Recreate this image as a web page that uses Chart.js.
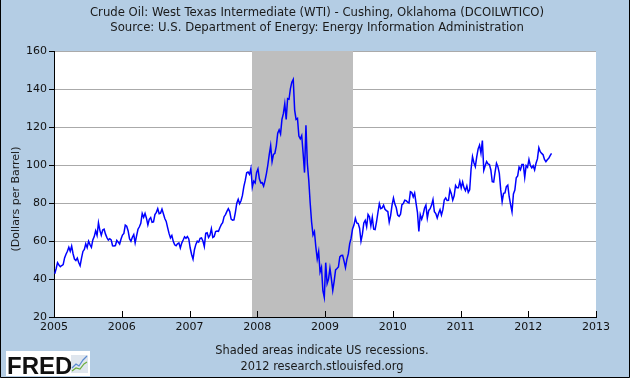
<!DOCTYPE html>
<html><head><meta charset="utf-8">
<script src="https://cdn.jsdelivr.net/npm/chart.js@4.4.1/dist/chart.umd.min.js"></script>
<style>html,body{margin:0;padding:0;background:#b4cde4;overflow:hidden}</style>
</head><body>
<canvas id="c" width="630" height="378"></canvas>
<script>
// Weekly WTI spot prices (4 readings per month), dollars per barrel
const wti2005 = [42.8,45.4,48.6,47.4, 46.5,47.1,47.6,51.1, 53.0,54.6,56.7,54.6, 57.3,53.3,50.5,49.7,
  51.0,48.7,47.0,51.0, 54.5,55.6,58.5,56.5, 59.9,58.1,56.7,60.6, 62.3,65.4,63.0,69.6,
  65.6,63.0,65.8,66.2, 63.6,61.8,60.5,61.2, 60.6,57.5,57.4,57.6, 60.3,59.4,58.4,61.0];
const wti2006 = [63.1,64.0,68.4,67.8, 65.4,61.2,59.9,62.0, 63.4,59.0,62.7,66.2, 67.5,69.3,74.5,72.5,
  74.5,72.0,68.5,71.4, 72.3,69.8,70.0,73.9, 75.1,77.0,74.4,74.7, 76.8,74.3,71.8,70.3,
  67.0,64.0,61.6,62.9, 59.8,58.0,57.5,58.5, 59.0,56.3,58.9,60.5, 62.2,61.4,62.3,61.1];
const wti2007 = [56.3,52.9,50.5,55.4, 58.2,59.9,59.4,61.4, 61.6,60.0,57.1,64.0, 64.3,61.9,63.1,66.5,
  61.9,62.4,65.0,65.2, 65.1,67.0,68.6,69.6, 72.8,73.9,75.6,77.0, 75.5,71.5,71.0,71.1,
  75.1,79.9,81.9,79.6, 81.2,84.0,88.6,91.9, 95.9,96.3,95.1,98.2, 88.3,91.5,90.6,96.0];
const wti2008 = [97.9,92.7,90.6,90.7, 88.9,91.8,95.5,100.0, 105.5,110.2,101.8,105.6, 106.2,110.1,116.7,118.5,
  116.3,124.0,127.0,132.2, 124.0,134.9,134.6,140.2, 143.6,145.1,128.9,124.0, 124.5,115.2,113.8,115.5,
  106.2,96.0,120.9,100.7, 92.0,80.0,70.0,63.2, 65.0,57.0,50.5,54.4, 43.7,46.2,33.9,30.3];
const wti2009 = [48.6,37.6,40.0,45.7, 40.2,34.0,38.9,44.8, 45.5,46.3,51.6,52.4, 52.5,49.4,46.0,50.3,
  53.2,58.6,61.5,66.3, 68.4,72.0,69.5,69.2, 66.7,59.9,63.6,69.5, 70.9,67.5,73.9,72.7,
  68.0,72.5,66.2,66.0, 70.0,75.0,79.6,77.0, 77.4,78.9,76.7,76.0, 75.5,69.9,73.4,78.9];
const wti2010 = [82.6,79.4,77.5,73.6, 73.0,74.1,79.1,79.7, 81.5,81.2,80.4,80.0, 85.9,85.5,83.2,85.2,
  79.9,75.1,65.0,73.9, 71.5,73.8,77.2,78.9, 72.1,76.1,77.0,78.9, 81.8,75.4,74.4,72.1,
  74.6,76.5,73.7,76.5, 81.6,82.7,81.3,81.4, 87.0,84.9,81.5,83.8, 89.2,88.0,88.0,91.4];
const wti2011 = [88.0,91.1,88.0,86.5, 89.0,85.6,87.0,97.9, 104.4,101.2,99.1,104.3, 108.5,110.5,106.2,112.9,
  97.2,99.6,101.8,100.6, 100.2,97.4,91.2,91.0, 96.2,100.9,99.1,95.6, 86.9,80.7,85.1,85.3,
  88.6,89.4,83.3,79.2, 75.4,84.8,86.8,93.3, 94.3,98.9,97.5,100.2, 100.2,93.5,99.7,98.8];
const wti2012 = [102.9,99.7,98.5,99.6, 97.4,100.9,103.2,109.1, 107.0,106.1,105.4,102.9, 101.8,102.8,103.5,104.9, 106.1];

const seriesByYear = [[2005,wti2005],[2006,wti2006],[2007,wti2007],[2008,wti2008],
  [2009,wti2009],[2010,wti2010],[2011,wti2011],[2012,wti2012]];
const yTicks = [20,40,60,80,100,120,140,160];
const xYears = [2005,2006,2007,2008,2009,2010,2011,2012,2013];
const recession = [2007 + 11/12, 2009 + 5/12]; // Dec 2007 - Jun 2009

const points = [];
seriesByYear.forEach(([yr, arr]) => arr.forEach((v, i) => points.push({x: yr + (i + 0.5) / 48, y: v})));

const FONT = '"DejaVu Sans", Verdana, sans-serif';
const BG = '#b4cde4';

const decor = {
  id: 'decor',
  beforeDraw(chart) {
    const {ctx, chartArea: a} = chart;
    ctx.save();
    ctx.fillStyle = BG;
    ctx.fillRect(0, 0, chart.width, chart.height);
    ctx.fillStyle = '#ffffff';
    ctx.fillRect(a.left, a.top, a.right - a.left, a.bottom - a.top);
    ctx.restore();
  },
  beforeDatasetsDraw(chart) {
    const {ctx, chartArea: a, scales: {x}} = chart;
    ctx.save();
    const x0 = Math.round(x.getPixelForValue(recession[0]));
    const x1 = Math.round(x.getPixelForValue(recession[1]));
    ctx.fillStyle = '#bebebe';
    ctx.fillRect(x0, a.top, x1 - x0, a.bottom - a.top);
    // inward x ticks
    ctx.strokeStyle = '#000';
    ctx.lineWidth = 1;
    xYears.forEach(v => {
      const px = Math.round(x.getPixelForValue(v)) + 0.5;
      ctx.beginPath();
      ctx.moveTo(px, a.bottom);
      ctx.lineTo(px, a.bottom - 6);
      ctx.stroke();
    });
    ctx.restore();
  },
  afterDraw(chart) {
    const {ctx} = chart;
    ctx.save();
    ctx.fillStyle = '#1a1a1a';
    ctx.textAlign = 'center';
    ctx.textBaseline = 'middle';
    ctx.font = '11.7px ' + FONT;
    ctx.fillText('Crude Oil: West Texas Intermediate (WTI) - Cushing, Oklahoma (DCOILWTICO)', 317, 13);
    ctx.fillText('Source: U.S. Department of Energy: Energy Information Administration', 317, 28);
    ctx.font = '11.4px ' + FONT;
    ctx.fillText('Shaded areas indicate US recessions.', 322, 351);
    ctx.fillText('2012 research.stlouisfed.org', 322, 367);
    ctx.font = '11px ' + FONT;
    ctx.save();
    ctx.translate(16, 199);
    ctx.rotate(-Math.PI / 2);
    ctx.fillText('(Dollars per Barrel)', 0, 0);
    ctx.restore();
    // FRED logo
    ctx.fillStyle = '#ffffff';
    ctx.fillRect(6, 351, 84, 25);
    ctx.fillStyle = '#111';
    ctx.textAlign = 'left';
    ctx.textBaseline = 'alphabetic';
    ctx.font = 'bold 24px "Liberation Sans", Arial, sans-serif';
    ctx.fillText('FRED', 7, 374);
    ctx.fillStyle = '#dfe6ee';
    ctx.fillRect(71, 355, 17, 18);
    ctx.lineWidth = 1.2;
    ctx.strokeStyle = '#5a8ad0';
    ctx.beginPath(); ctx.moveTo(72, 368); ctx.lineTo(76, 364); ctx.lineTo(79, 366); ctx.lineTo(83, 360); ctx.lineTo(87, 356); ctx.stroke();
    ctx.strokeStyle = '#6cae3c';
    ctx.beginPath(); ctx.moveTo(72, 371); ctx.lineTo(76, 368); ctx.lineTo(80, 369); ctx.lineTo(84, 364); ctx.lineTo(87, 362); ctx.stroke();
    // outer frame
    ctx.strokeStyle = '#000';
    ctx.lineWidth = 1;
    ctx.beginPath();
    ctx.moveTo(0.5, 0); ctx.lineTo(0.5, 377.5); ctx.lineTo(629.5, 377.5); ctx.lineTo(629.5, 0);
    ctx.stroke();
    ctx.restore();
  }
};

new Chart(document.getElementById('c'), {
  type: 'line',
  data: {
    datasets: [{
      data: points,
      borderColor: '#0000ff',
      borderWidth: 1.5,
      pointRadius: 0,
      tension: 0,
      fill: false
    }]
  },
  options: {
    responsive: false,
    animation: false,
    events: [],
    layout: {padding: {top: 51, right: 34, left: 0, bottom: 0}},
    plugins: {legend: {display: false}, tooltip: {enabled: false}, title: {display: false}},
    scales: {
      x: {
        type: 'linear', min: 2005, max: 2013,
        afterBuildTicks(s) { s.ticks = xYears.map(v => ({value: v})); },
        afterFit(s) { s.height = 61; },
        ticks: {callback: v => String(v), color: '#111', font: {family: FONT, size: 11}, padding: 4, maxRotation: 0, autoSkip: false},
        grid: {drawOnChartArea: false, drawTicks: false},
        border: {color: '#000', width: 1}
      },
      y: {
        type: 'linear', min: 20, max: 160,
        afterBuildTicks(s) { s.ticks = yTicks.map(v => ({value: v})); },
        afterFit(s) { s.width = 54; },
        ticks: {color: '#111', font: {family: FONT, size: 11}, padding: 2},
        grid: {color: '#aaaaaa', lineWidth: 1, tickColor: '#000', tickLength: 5, drawTicks: true},
        border: {color: '#000', width: 1}
      }
    }
  },
  plugins: [decor]
});
</script>
</body></html>
